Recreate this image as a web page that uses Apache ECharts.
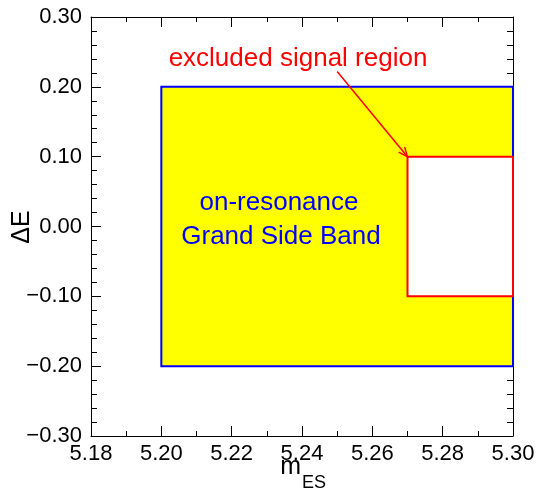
<!DOCTYPE html>
<html>
<head>
<meta charset="utf-8">
<script src="https://cdn.jsdelivr.net/npm/echarts@6/dist/echarts.min.js"></script>
<style>
  html, body { margin: 0; padding: 0; background: #fff; }
  #chart { width: 538px; height: 493px; }
</style>
</head>
<body>
<div id="chart"></div>
<script>
// axis ranges
var xRange = [5.18, 5.30];
var yRange = [-0.30, 0.30];
// regions, [x0, x1, y0, y1]
var sideBand = [5.20, 5.30, -0.20, 0.20];
var signalBox = [5.27, 5.30, -0.10, 0.10];
// arrow from label to signal box corner
var arrowStart = [5.25, 0.222];
var arrowEnd = [5.27, 0.10];

var FONT = '"Liberation Sans", Arial, Helvetica, sans-serif';

var dom = document.getElementById('chart');
var chart = echarts.init(dom, null, { renderer: 'canvas' });

function fmt(v) {
  if (Math.abs(v) < 1e-9) v = 0;
  return v.toFixed(2).replace('-', '\u2212');
}

function rectItem(fill, stroke) {
  return function (params, api) {
    var p0 = api.coord([api.value(0), api.value(3)]);
    var p1 = api.coord([api.value(1), api.value(2)]);
    return {
      type: 'rect',
      shape: { x: p0[0], y: p0[1], width: p1[0] - p0[0], height: p1[1] - p0[1] },
      style: { fill: fill, stroke: stroke, lineWidth: 2 }
    };
  };
}

function arrowItem(params, api) {
  var a = api.coord([api.value(0), api.value(1)]);
  var b = api.coord([api.value(2), api.value(3)]);
  var ang = Math.atan2(b[1] - a[1], b[0] - a[0]);
  var len = 10, spread = 0.4;
  var h1 = [b[0] - len * Math.cos(ang - spread), b[1] - len * Math.sin(ang - spread)];
  var h2 = [b[0] - len * Math.cos(ang + spread), b[1] - len * Math.sin(ang + spread)];
  return {
    type: 'group',
    children: [
      { type: 'line', shape: { x1: a[0], y1: a[1], x2: b[0], y2: b[1] }, style: { stroke: '#ff0000', lineWidth: 1.5 } },
      { type: 'polyline', shape: { points: [h1, b, h2] }, style: { stroke: '#ff0000', lineWidth: 1.5, fill: null } }
    ]
  };
}

function xAx(pos, labels) {
  return {
    type: 'value', position: pos, min: xRange[0], max: xRange[1], interval: 0.02,
    axisLine: { show: true, onZero: false, lineStyle: { color: '#000', width: 1 } },
    axisTick: { show: true, inside: true, length: 10, lineStyle: { color: '#000' } },
    minorTick: { show: true, splitNumber: 2, length: 5, lineStyle: { color: '#000' } },
    splitLine: { show: false },
    axisLabel: { show: labels, margin: 7, color: '#000', fontSize: 22, fontFamily: FONT, formatter: fmt }
  };
}
function yAx(pos, labels) {
  return {
    type: 'value', position: pos, min: yRange[0], max: yRange[1], interval: 0.1,
    axisLine: { show: true, onZero: false, lineStyle: { color: '#000', width: 1 } },
    axisTick: { show: true, inside: true, length: 10, lineStyle: { color: '#000' } },
    minorTick: { show: true, splitNumber: 5, length: 6, lineStyle: { color: '#000' } },
    splitLine: { show: false },
    axisLabel: { show: labels, margin: 9, color: '#000', fontSize: 22, fontFamily: FONT, formatter: fmt }
  };
}

var option = {
  animation: false,
  backgroundColor: '#fff',
  grid: { left: 91, right: 25, top: 17, bottom: 57 },
  xAxis: [xAx('bottom', true), xAx('top', false)],
  yAxis: [yAx('left', true), yAx('right', false)],
  series: [
    { type: 'custom', clip: false, z: 1, data: [sideBand], renderItem: rectItem('#ffff00', '#0000ff') },
    { type: 'custom', clip: false, z: 2, data: [signalBox], renderItem: rectItem('#ffffff', '#ff0000') },
    { type: 'custom', clip: false, z: 3, data: [arrowStart.concat(arrowEnd)], renderItem: arrowItem }
  ],
  graphic: {
    elements: [
      { type: 'text', z: 100, x: 298, y: 59, style: { text: 'excluded signal region', fill: '#ff0000', font: '26px ' + FONT, align: 'center', verticalAlign: 'middle' } },
      { type: 'text', z: 100, x: 279, y: 203, style: { text: 'on-resonance', fill: '#0000ff', font: '26px ' + FONT, align: 'center', verticalAlign: 'middle' } },
      { type: 'text', z: 100, x: 281, y: 237, style: { text: 'Grand Side Band', fill: '#0000ff', font: '26px ' + FONT, align: 'center', verticalAlign: 'middle' } },
      { type: 'text', z: 100, x: 22, y: 227, rotation: Math.PI / 2, style: { text: '\u0394E', fill: '#000', font: '25px ' + FONT, align: 'center', verticalAlign: 'middle' } },
      { type: 'text', z: 100, x: 301, y: 467, style: { text: 'm', fill: '#000', font: '25px ' + FONT, align: 'right', verticalAlign: 'middle' } },
      { type: 'text', z: 100, x: 302, y: 483, style: { text: 'ES', fill: '#000', font: '18px ' + FONT, align: 'left', verticalAlign: 'middle' } }
    ]
  }
};

chart.setOption(option);
window.addEventListener('resize', chart.resize);
</script>
</body>
</html>
